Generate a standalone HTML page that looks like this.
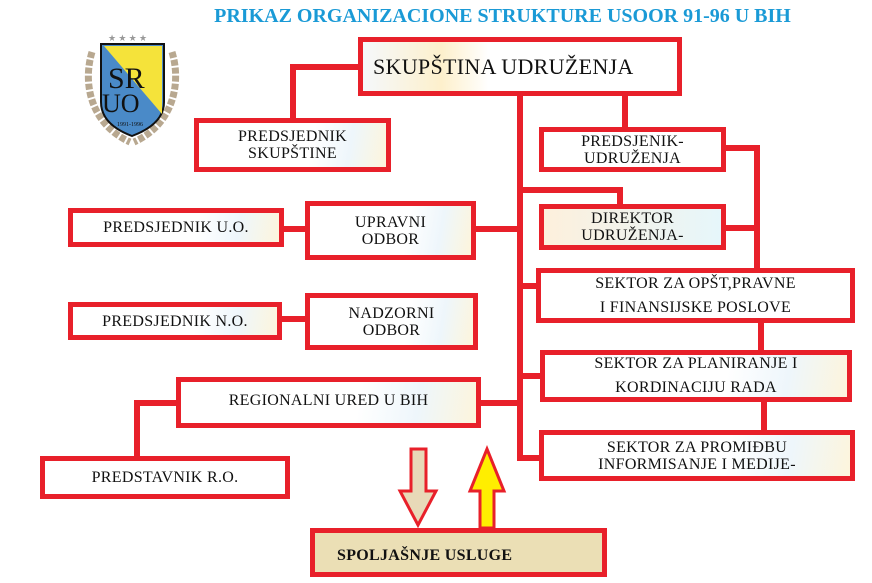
<!DOCTYPE html>
<html><head><meta charset="utf-8"><style>
body{margin:0;width:872px;height:583px;background:#fff;position:relative;overflow:hidden;font-family:"Liberation Serif",serif;}
.b{position:absolute;box-sizing:border-box;border:5px solid #e8202a;background:linear-gradient(100deg,#fff 0%,#fff 60%,#eef6fb 80%,#fdf5dc 100%);display:flex;align-items:center;justify-content:center;text-align:center;font-size:16px;line-height:17px;color:#111;letter-spacing:0.3px}
.t{position:absolute;left:0;width:1005px;text-align:center;top:5px;color:#1a9ad6;font-weight:bold;font-size:20px}
</style></head><body>
<div class="t">PRIKAZ ORGANIZACIONE STRUKTURE USOOR 91-96 U BIH</div>
<svg width="872" height="583" style="position:absolute;left:0;top:0">
<g stroke="#e8202a" stroke-width="6" fill="none">
<path d="M358 67H293V118"/>
<path d="M520 96V458H539"/>
<path d="M476 229H520M520 190H620V204M625 96V127"/>
<path d="M726 148H757V268M726 228H757"/>
<path d="M520 286H536M520 376H540M481 403H520"/>
<path d="M761 323V350M764 402V430"/>
<path d="M284 229H305M282 319H305"/>
<path d="M176 403H137V456"/>
</g>
<path d="M411 449H426V491H436L418 525L400 491H411Z" fill="#e8d9b8" stroke="#e8202a" stroke-width="3"/>
<path d="M480 528V491H470L487 449L504 491H494V528Z" fill="#ffee00" stroke="#e8202a" stroke-width="3"/>
<g transform="translate(84,30)">
<path d="M8 22C-2 55 8 95 46 112M88 22C98 55 88 95 50 112" stroke="#b8a890" stroke-width="7" fill="none" stroke-dasharray="6 2"/>
<text x="24" y="11" font-size="9" fill="#999">★ ★ ★ ★</text>
<path d="M17 14H80V72C80 90 64 100 48 106C32 100 17 90 17 72Z" fill="#4a8ac8" stroke="#111" stroke-width="2"/>
<path d="M20 16H78V84Z" fill="#f5e33a"/>
<text x="24" y="58" font-size="30" fill="#111" font-family="Liberation Serif">SR</text>
<text x="18" y="82" font-size="26" fill="#111" font-family="Liberation Serif">UO</text>
<text x="33" y="96" font-size="6" fill="#111">1991-1996</text>
</g>
</svg>
<div class="b" style="left:358px;top:37px;width:324px;height:59px;font-size:22px;justify-content:flex-start;padding-left:10px;background:linear-gradient(90deg,#f5f8fb,#fdf0cc 25%,#fff 40%,#fff)">SKUPŠTINA UDRUŽENJA</div>
<div class="b" style="left:194px;top:118px;width:197px;height:54px">PREDSJEDNIK<br>SKUPŠTINE</div>
<div class="b" style="left:539px;top:127px;width:187px;height:45px;background:#fff">PREDSJENIK-<br>UDRUŽENJA</div>
<div class="b" style="left:68px;top:208px;width:216px;height:39px">PREDSJEDNIK U.O.</div>
<div class="b" style="left:305px;top:201px;width:171px;height:59px">UPRAVNI<br>ODBOR</div>
<div class="b" style="left:539px;top:204px;width:187px;height:46px;background:linear-gradient(90deg,#fdf0dc,#e6f6fb)">DIREKTOR<br>UDRUŽENJA-</div>
<div class="b" style="left:536px;top:268px;width:319px;height:55px;line-height:24px;background:#fff">SEKTOR ZA OPŠT,PRAVNE<br>I FINANSIJSKE POSLOVE</div>
<div class="b" style="left:68px;top:302px;width:214px;height:38px">PREDSJEDNIK N.O.</div>
<div class="b" style="left:305px;top:293px;width:173px;height:57px">NADZORNI<br>ODBOR</div>
<div class="b" style="left:540px;top:350px;width:312px;height:52px;line-height:24px">SEKTOR ZA PLANIRANJE I<br>KORDINACIJU RADA</div>
<div class="b" style="left:176px;top:377px;width:305px;height:51px;align-items:flex-start;padding-top:10px">REGIONALNI URED U BIH</div>
<div class="b" style="left:539px;top:430px;width:316px;height:51px">SEKTOR ZA PROMIĐBU<br>INFORMISANJE I MEDIJE-</div>
<div class="b" style="left:40px;top:456px;width:250px;height:43px;background:#fff">PREDSTAVNIK R.O.</div>
<div class="b" style="left:310px;top:528px;width:297px;height:49px;background:#ebdfb5;font-weight:bold;justify-content:flex-start;padding-left:22px;padding-top:6px">SPOLJAŠNJE USLUGE</div>
</body></html>
